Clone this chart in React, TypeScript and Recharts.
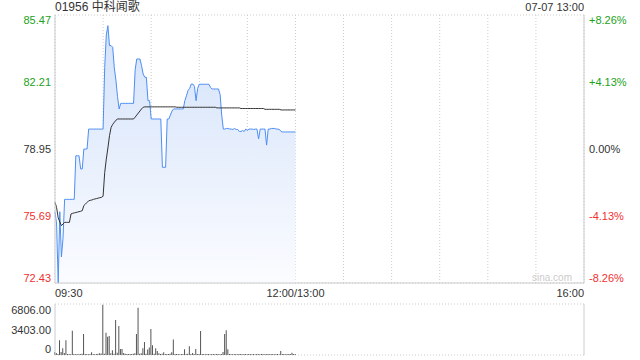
import { ComposedChart, Area, Line, XAxis, YAxis, CartesianGrid, BarChart, Bar } from "recharts";

const FONT = "Arial, 'Liberation Sans', 'Noto Sans CJK SC', sans-serif";
const UP = "#1ba21b";
const DOWN = "#f23030";
const TEXT = "#333";
const GRID = "#cccccc";

const stockCode = "01956";
const stockName = "中科闻歌";
const stampText = "07-07 13:00";
const prevClose = 78.95;

// minutes since 09:30, lunch break folded out (09:30-12:00, 13:00-16:00)
const timeTicks = [0, 30, 60, 90, 120, 150, 180, 210, 240, 270, 300, 330];
const timeLabels: Record<number, string> = { 0: "09:30", 150: "12:00/13:00", 330: "16:00" };

const priceTicks = [72.43, 75.69, 78.95, 82.21, 85.47];
const volumeTicks = [0, 3403, 6806];

const prices = [
  75.9, 75.3, 72.43, 75.9, 73.7, 74.6, 76.5, 76.5, 76.5, 76.5,
  76.5, 76.5, 76.5, 78.62, 78.62, 78.62, 77.98, 77.98, 78.95, 78.95,
  78.95, 79.92, 79.92, 79.92, 79.92, 79.92, 79.92, 79.92, 79.92, 79.92,
  79.92, 82.92, 84.5, 84.95, 83.98, 83.98, 83.9, 82.9, 82.3, 81.5,
  80.9, 81.17, 81.17, 81.17, 81.17, 81.17, 81.17, 81.17, 81.17, 81.17,
  82.8, 83.33, 83.33, 83.33, 83.0, 82.6, 82.44, 82.44, 81.3, 81.3,
  80.41, 80.41, 80.41, 80.41, 80.41, 80.41, 80.41, 78.06, 78.06, 78.06,
  80.41, 80.41, 80.6, 80.8, 80.9, 80.9, 80.9, 80.9, 80.9, 80.9,
  80.9, 81.3, 81.54, 81.8, 81.9, 82.11, 82.11, 82.0, 81.3, 81.9,
  82.1, 82.1, 82.1, 82.1, 82.1, 82.1, 82.1, 81.95, 81.87, 81.87,
  81.87, 81.87, 81.87, 81.6, 80.6, 79.92, 79.92, 79.95, 79.95, 79.92,
  79.92, 79.9, 79.95, 79.9, 79.9, 79.8, 79.8, 79.85, 79.8, 79.92,
  79.85, 79.92, 79.92, 79.92, 79.9, 79.92, 79.92, 79.44, 79.92, 79.92,
  79.92, 79.92, 79.14, 79.92, 79.92, 79.95, 79.95, 79.95, 79.92, 79.92,
  79.9, 79.8, 79.78, 79.78, 79.78, 79.78, 79.78, 79.78, 79.78, 79.78,
  79.78,
];

const avgPrices = [
  76.36, 76.1, 75.6, 75.4, 75.22, 75.3, 75.38, 75.38, 75.38, 75.38,
  75.79, 75.82, 75.84, 75.86, 75.88, 75.9, 75.92, 75.95, 76.2, 76.27,
  76.35, 76.43, 76.45, 76.47, 76.5, 76.52, 76.54, 76.56, 76.58, 76.6,
  76.65, 77.8, 78.46, 79.0, 79.6, 80.0, 80.15, 80.25, 80.35, 80.41,
  80.41, 80.41, 80.41, 80.41, 80.41, 80.41, 80.41, 80.41, 80.41, 80.41,
  80.5, 80.6, 80.7, 80.8, 80.9, 80.98, 81.0, 81.0, 81.0, 81.0,
  81.0, 81.0, 81.0, 81.0, 81.0, 81.0, 81.0, 81.0, 81.0, 81.0,
  81.0, 81.0, 81.0, 81.0, 81.0, 81.0, 80.98, 80.98, 80.98, 80.98,
  80.98, 80.98, 80.98, 80.98, 80.98, 80.98, 80.98, 80.98, 80.98, 80.98,
  80.98, 80.98, 80.98, 80.98, 80.98, 80.98, 80.98, 80.98, 80.98, 80.98,
  80.98, 80.95, 80.95, 80.95, 80.95, 80.95, 80.95, 80.95, 80.95, 80.95,
  80.95, 80.95, 80.95, 80.95, 80.95, 80.95, 80.92, 80.92, 80.92, 80.92,
  80.92, 80.92, 80.92, 80.92, 80.92, 80.92, 80.92, 80.92, 80.92, 80.92,
  80.92, 80.88, 80.88, 80.88, 80.88, 80.88, 80.88, 80.88, 80.88, 80.88,
  80.88, 80.85, 80.85, 80.85, 80.85, 80.85, 80.85, 80.85, 80.85, 80.85,
  80.85,
];

const volumes = [
  400, 270, 150, 1980, 400, 900, 270, 1980, 150, 120,
  100, 3240, 130, 110, 150, 100, 130, 180, 2790, 140,
  120, 100, 150, 360, 130, 100, 120, 180, 220, 200,
  6700, 180, 2970, 2430, 2520, 220, 630, 180, 4680, 300,
  3870, 810, 810, 270, 180, 130, 150, 120, 130, 180,
  220, 2790, 6300, 180, 220, 900, 1750, 180, 720, 990,
  3470, 1300, 180, 900, 540, 220, 130, 180, 360, 130,
  150, 130, 180, 360, 2070, 130, 150, 120, 100, 130,
  150, 765, 130, 180, 1170, 130, 270, 130, 810, 150,
  130, 3200, 150, 130, 100, 120, 130, 100, 120, 130,
  100, 120, 130, 100, 150, 400, 2790, 3290, 765, 130,
  120, 100, 130, 120, 100, 130, 120, 100, 130, 120,
  100, 120, 130, 100, 120, 100, 130, 120, 100, 130,
  120, 100, 130, 120, 100, 130, 120, 100, 130, 120,
  100, 540, 130, 120, 100, 130, 120, 150, 300, 130,
  150,
];

const rows = prices.map((p, i) => ({ t: i, price: p, avg: avgPrices[i], vol: volumes[i] }));

function priceColor(v: number) {
  if (Math.abs(v - prevClose) < 0.001) return TEXT;
  return v > prevClose ? UP : DOWN;
}

function edgeShift(v: number, ticks: number[], down: number, up: number) {
  if (v === ticks[ticks.length - 1]) return down;
  if (v === ticks[0]) return -up;
  return 0;
}

const PriceTick = ({ x, y, payload }: any) => (
  <text x={x} y={y + edgeShift(payload.value, priceTicks, 5, 5)} textAnchor="end" dominantBaseline="central"
    fontSize={11} fontFamily={FONT} fill={priceColor(payload.value)}>
    {payload.value.toFixed(2)}
  </text>
);

const PctTick = ({ x, y, payload }: any) => {
  const pct = ((payload.value - prevClose) / prevClose) * 100;
  const label = (pct > 0.001 ? "+" : "") + pct.toFixed(2) + "%";
  return (
    <text x={x} y={y + edgeShift(payload.value, priceTicks, 5, 5)} textAnchor="start" dominantBaseline="central"
      fontSize={11} fontFamily={FONT} fill={priceColor(payload.value)}>
      {label}
    </text>
  );
};

const TimeTick = ({ x, y, payload }: any) => {
  const label = timeLabels[payload.value];
  if (!label) return <g />;
  const anchor = payload.value === 0 ? "start" : payload.value === 330 ? "end" : "middle";
  return (
    <text x={x} y={y + 10} textAnchor={anchor} dominantBaseline="central" fontSize={11} fontFamily={FONT} fill={TEXT}>
      {label}
    </text>
  );
};

const VolTick = ({ x, y, payload }: any) => (
  <text x={x} y={y + edgeShift(payload.value, volumeTicks, 6, 6)} textAnchor="end" dominantBaseline="central"
    fontSize={11} fontFamily={FONT} fill={TEXT}>
    {payload.value === 0 ? "0" : payload.value.toFixed(2)}
  </text>
);

export default function App() {
  return (
    <div style={{ position: "absolute", left: 0, top: 0, width: 640, height: 360, background: "#fff", fontFamily: FONT }}>
      <div style={{ position: "absolute", left: 55, top: 0, fontSize: 12, lineHeight: "15px", color: TEXT }}>
        {stockCode} {stockName}
      </div>
      <div style={{ position: "absolute", right: 56, top: 0, fontSize: 11, lineHeight: "15px", color: TEXT }}>
        {stampText}
      </div>

      <div style={{ position: "absolute", left: 0, top: 0 }}>
        <ComposedChart width={640} height={300} data={rows} margin={{ top: 15, right: 0, bottom: 0, left: 0 }}>
          <defs>
            <linearGradient id="priceFill" x1="0" y1="0" x2="0" y2="1">
              <stop offset="0%" stopColor="#d3e2fa" />
              <stop offset="100%" stopColor="#fbfcff" />
            </linearGradient>
          </defs>
          <CartesianGrid stroke={GRID} strokeDasharray="1 2" />
          <XAxis dataKey="t" type="number" domain={[0, 330]} ticks={timeTicks} interval={0}
            tick={TimeTick} tickSize={0} tickMargin={0} height={17} axisLine={{ stroke: GRID }} />
          <XAxis xAxisId="top" orientation="top" dataKey="t" type="number" domain={[0, 330]}
            tick={false} tickLine={false} height={0} axisLine={{ stroke: GRID }} />
          <YAxis yAxisId="left" domain={[72.43, 85.47]} ticks={priceTicks} interval={0} allowDataOverflow
            width={55} tick={PriceTick} tickSize={0} tickMargin={4} axisLine={{ stroke: GRID }} />
          <YAxis yAxisId="right" orientation="right" domain={[72.43, 85.47]} ticks={priceTicks} interval={0}
            allowDataOverflow width={56} tick={PctTick} tickSize={0} tickMargin={5} axisLine={{ stroke: GRID }} />
          <Area yAxisId="left" type="linear" dataKey="price" stroke="#4d8ef3" strokeWidth={1}
            fill="url(#priceFill)" fillOpacity={1} dot={false} activeDot={false} isAnimationActive={false} />
          <Line yAxisId="left" type="linear" dataKey="avg" stroke="#333" strokeWidth={1}
            dot={false} activeDot={false} isAnimationActive={false} />
        </ComposedChart>
      </div>

      <div style={{ position: "absolute", left: 532, top: 271, fontSize: 10, lineHeight: "14px", color: "#cccccc" }}>
        sina.com
      </div>

      <div style={{ position: "absolute", left: 0, top: 296 }}>
        <BarChart width={640} height={64} data={rows} margin={{ top: 8, right: 0, bottom: 5, left: 0 }}>
          <CartesianGrid stroke={GRID} strokeDasharray="1 2" vertical={false} />
          <XAxis dataKey="t" type="number" domain={[0, 330]} hide />
          <YAxis yAxisId="left" domain={[0, 6806]} ticks={volumeTicks} interval={0} width={55}
            tick={VolTick} tickSize={0} tickMargin={4} axisLine={{ stroke: GRID }} />
          <YAxis yAxisId="right" orientation="right" domain={[0, 6806]} width={56}
            tick={false} tickLine={false} axisLine={{ stroke: GRID }} />
          <Bar yAxisId="left" dataKey="vol" fill="#555" barSize={1} isAnimationActive={false} />
        </BarChart>
      </div>
    </div>
  );
}
